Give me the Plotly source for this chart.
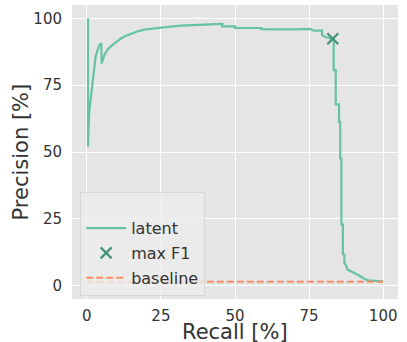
import plotly.graph_objects as go

# Precision-recall curve ("latent")
recall = [0.4, 0.4, 0.6, 0.9, 1.35, 1.9, 2.5, 3.0, 3.6, 4.2, 4.9, 5.0, 6.0, 7.0, 8.1, 9.5, 11.4,
          13.0, 14.8, 17.0, 19.3, 22.0, 24.9, 28.3, 31.6, 36.0, 40.0, 45.7, 45.7, 50.0, 50.0,
          58.9, 58.9, 65.9, 65.9, 70.0, 75.4, 76.5, 79.4, 79.4, 80.5, 81.5, 82.5, 83.0, 83.3,
          83.3, 84.0, 84.0, 85.1, 85.1, 85.5, 85.5, 85.9, 85.9, 86.4, 86.4, 86.9, 86.9, 87.5,
          88.0, 89.0, 90.0, 91.2, 92.3, 93.9, 95.0, 97.0, 100.0]
precision = [100.0, 52.0, 60.0, 66.0, 70.6, 77.0, 83.0, 86.0, 88.0, 89.8, 90.8, 83.1, 86.5, 88.3,
             89.5, 90.8, 92.4, 93.4, 94.3, 95.1, 95.8, 96.2, 96.6, 96.9, 97.3, 97.5, 97.7, 97.9,
             97.0, 97.0, 96.4, 96.4, 96.0, 96.0, 95.8, 95.9, 96.1, 95.4, 95.4, 93.7, 93.0, 92.6,
             92.4, 92.4, 92.3, 80.6, 80.6, 67.8, 67.8, 61.3, 61.3, 47.6, 47.6, 22.8, 22.8, 11.9,
             11.5, 8.5, 7.5, 6.0, 5.5, 5.0, 4.2, 3.5, 2.4, 2.0, 1.9, 1.6]

# Max F1 point
maxf1_recall = [83.0]
maxf1_precision = [92.4]

# Baseline (positive rate)
baseline_recall = [0, 100]
baseline_precision = [1.5, 1.5]

tick_vals = [0, 25, 50, 75, 100]
tick_text = ["0", "25", "50", "75", "100"]

FONT = "DejaVu Sans"
TXT = "#333333"

fig = go.Figure()
fig.add_trace(go.Scatter(x=recall, y=precision, mode="lines", name="latent",
                         line=dict(color="#66c2a5", width=2.2), legendgroup="a"))
fig.add_trace(go.Scatter(x=maxf1_recall, y=maxf1_precision, mode="markers", name="max F1",
                         marker=dict(symbol="x-thin", size=11, color="#43937a",
                                     line=dict(color="#43937a", width=2.2)), legendgroup="b"))
fig.add_trace(go.Scatter(x=baseline_recall, y=baseline_precision, mode="lines", name="baseline",
                         line=dict(color="#fc8d62", width=2, dash="7px,3px"), legendgroup="c"))

fig.update_layout(
    width=407, height=342,
    margin=dict(l=72, r=9, t=5, b=43, autoexpand=False),
    paper_bgcolor="white",
    plot_bgcolor="#e5e5e5",
    font=dict(family=FONT, color=TXT, size=15),
    showlegend=True,
    legend=dict(x=0.025, y=0.364, xanchor="left", yanchor="top", itemwidth=40,
                bgcolor="rgba(236,236,236,0.8)", bordercolor="rgba(210,210,210,0.8)",
                borderwidth=1, font=dict(size=16, color=TXT), tracegroupgap=1,
                title=dict(text=" ", font=dict(size=14))),
    xaxis=dict(range=[-5, 105], tickvals=tick_vals, ticktext=tick_text, showgrid=True,
               gridcolor="white", gridwidth=1.2, zeroline=False, showline=False,
               ticks="outside", ticklen=3, tickcolor="rgba(0,0,0,0)", automargin=False,
               tickfont=dict(size=15, color=TXT)),
    yaxis=dict(range=[-5, 105], tickvals=tick_vals, ticktext=tick_text, showgrid=True,
               gridcolor="white", gridwidth=1.2, zeroline=False, showline=False,
               ticks="outside", ticklen=6, tickcolor="rgba(0,0,0,0)", automargin=False,
               tickfont=dict(size=15, color=TXT)),
    annotations=[
        dict(text="Recall [%]", xref="x", yref="paper", x=50, y=-0.113, yanchor="middle",
             xanchor="center", showarrow=False, font=dict(size=21, color=TXT)),
        dict(text="Precision [%]", xref="paper", yref="y", x=-0.155, y=50, textangle=-90,
             xanchor="center", yanchor="middle", showarrow=False, font=dict(size=21, color=TXT)),
    ],
)

fig.write_html("out.html", config={"displayModeBar": False},
               post_script="document.body.style.margin='0px';document.body.style.overflow='hidden';")
